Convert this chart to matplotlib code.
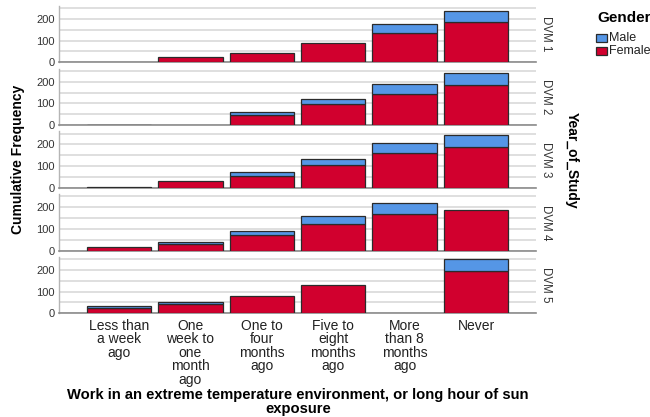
import matplotlib
matplotlib.use("Agg")
import matplotlib.pyplot as plt
from matplotlib.patches import Rectangle
import numpy as np

plt.rcParams['font.family'] = ['Liberation Sans', 'DejaVu Sans']

categories = ["Less than\na week\nago", "One\nweek to\none\nmonth\nago", "One to\nfour\nmonths\nago",
              "Five to\neight\nmonths\nago", "More\nthan 8\nmonths\nago", "Never"]
years = ["DVM 1", "DVM 2", "DVM 3", "DVM 4", "DVM 5"]
female = [
    [0, 26, 44, 87, 136, 184],
    [2, 0, 48, 96, 145, 186],
    [5, 30, 56, 105, 159, 186],
    [15, 29, 70, 124, 170, 188],
    [23, 43, 80, 131, 0, 194],
]
male = [
    [0, 0, 0, 0, 40, 54],
    [0, 0, 13, 24, 43, 56],
    [0, 0, 17, 30, 48, 59],
    [0, 9, 20, 37, 50, 0],
    [9, 9, 0, 0, 0, 58],
]
legend_labels = ["Male", "Female"]

C_MALE = "#5596E6"
C_FEMALE = "#D1002E"
EDGE = "#2b2b2b"

W, H = 650, 417
fig = plt.figure(figsize=(W / 100, H / 100), dpi=100)

left_px, right_px = 59, 536
x = np.arange(len(categories))
for i, yr in enumerate(years):
    zero_px = 62.3 + i * 62.75
    h_px = 56.4
    ax = fig.add_axes([left_px / W, 1 - zero_px / H, (right_px - left_px) / W, h_px / H])
    f = np.array(female[i])
    m = np.array(male[i])
    fk = f > 0
    mk = m > 0
    ax.bar(x[fk], f[fk], width=0.9, color=C_FEMALE, edgecolor=EDGE, linewidth=0.9, zorder=3)
    ax.bar(x[mk], m[mk], width=0.9, bottom=f[mk], color=C_MALE, edgecolor=EDGE, linewidth=0.9, zorder=3)
    ax.set_xlim(-0.84, 5.84)
    ax.set_ylim(0, 260)
    ax.set_yticks([0, 100, 200])
    ax.set_yticks([50, 150, 250], minor=True)
    ax.yaxis.grid(True, which='both', color="#D9D9D9", linewidth=1.2, zorder=0)
    ax.set_axisbelow(True)
    ax.tick_params(axis='y', which='both', length=0, labelsize=8, labelcolor="#333333", pad=3)
    for s in ['top', 'right']:
        ax.spines[s].set_visible(False)
    ax.spines['left'].set_color("#B5B5B5")
    ax.spines['bottom'].set_color("#8C8C8C")
    ax.spines['left'].set_linewidth(1.0)
    ax.spines['bottom'].set_linewidth(1.2)
    ax.set_xticks(x)
    if i < len(years) - 1:
        ax.tick_params(axis='x', length=0, labelbottom=False)
    else:
        ax.set_xticklabels(categories, fontsize=10, linespacing=0.95, color="#222222", va='top')
        ax.tick_params(axis='x', length=0, pad=4)
    ax.text(1.009, 0.5, yr, transform=ax.transAxes, rotation=-90, ha='left', va='center',
            fontsize=8.3, color="#333333")

fig.text(298 / W, 1 - 402 / H,
         "Work in an extreme temperature environment, or long hour of sun\nexposure",
         ha='center', va='center', fontsize=10.6, fontweight='bold', linespacing=0.95)
fig.text(18 / W, 1 - 159 / H, "Cumulative Frequency", rotation=90, ha='center', va='center',
         fontsize=10, fontweight='bold')
fig.text(572 / W, 1 - 160 / H, "Year_of_Study", rotation=-90, ha='center', va='center',
         fontsize=10, fontweight='bold')

# legend
fig.text(597 / W, 1 - 18 / H, "Gender", ha='left', va='center', fontsize=11, fontweight='bold')
for j, (lab, col) in enumerate(zip(legend_labels, [C_MALE, C_FEMALE])):
    yc = 38 + j * 12.7
    fig.add_artist(Rectangle((596 / W, 1 - (yc + 4) / H), 11 / W, 8 / H, transform=fig.transFigure,
                             facecolor=col, edgecolor=EDGE, linewidth=0.9))
    fig.text(608.5 / W, 1 - yc / H, lab, ha='left', va='center', fontsize=9, color="#222222")

fig.savefig("out.png", dpi=100)
